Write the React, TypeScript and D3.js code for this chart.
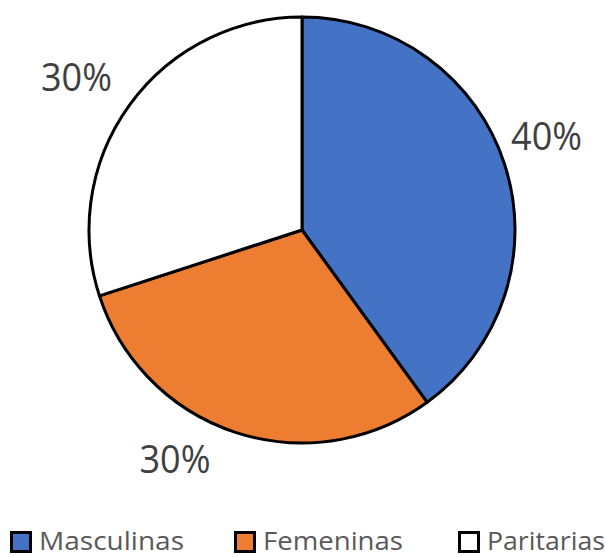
import React from "react";
import * as d3 from "d3";

const categories = ["Masculinas", "Femeninas", "Paritarias"];
const values = [40, 30, 30];
const labels = ["40%", "30%", "30%"];
const colors = ["#4472C4", "#ED7D31", "#FFFFFF"];

// layout tweaks
const labelNudgeDeg = [-3, 11, -2];
const labelRadius = [262, 262, 272];
const legendX = [10, 234, 458];
const legendTextWidth = [145, 140, 118];

export default function App() {
  const width = 606;
  const height = 557;
  const cx = 302;
  const cy = 230;
  const radius = 213;

  const pie = d3
    .pie<number>()
    .sort(null)
    .value(d => d);
  const arcs = pie(values);
  const arc = d3.arc<d3.PieArcDatum<number>>().innerRadius(0).outerRadius(radius);

  return (
    <svg
      width={width}
      height={height}
      style={{ position: "absolute", left: 0, top: 0, background: "#fff" }}
      fontFamily="'Open Sans', sans-serif"
    >
      <g transform={`translate(${cx}, ${cy})`}>
        {arcs.map((a, i) => (
          <path
            key={categories[i]}
            d={arc(a) || ""}
            fill={colors[i]}
            stroke="#000"
            strokeWidth={3}
            strokeLinejoin="round"
          />
        ))}
        {arcs.map((a, i) => {
          const mid = (a.startAngle + a.endAngle) / 2 + (labelNudgeDeg[i] * Math.PI) / 180;
          const x = Math.sin(mid) * labelRadius[i];
          const y = -Math.cos(mid) * labelRadius[i];
          return (
            <text
              key={"l" + i}
              x={x}
              y={y + 13.5}
              textAnchor="middle"
              fontSize={38}
              fill="#404040"
              textLength={71}
              lengthAdjust="spacingAndGlyphs"
            >
              {labels[i]}
            </text>
          );
        })}
      </g>
      <g>
        {categories.map((c, i) => (
          <g key={c} transform={`translate(${legendX[i]}, 531)`}>
            <rect x={1.5} y={1.5} width={19} height={19} fill={colors[i]} stroke="#000" strokeWidth={3} />
            <text
              x={29}
              y={19}
              fontSize={25}
              fill="#595959"
              textLength={legendTextWidth[i]}
              lengthAdjust="spacingAndGlyphs"
            >
              {c}
            </text>
          </g>
        ))}
      </g>
    </svg>
  );
}
